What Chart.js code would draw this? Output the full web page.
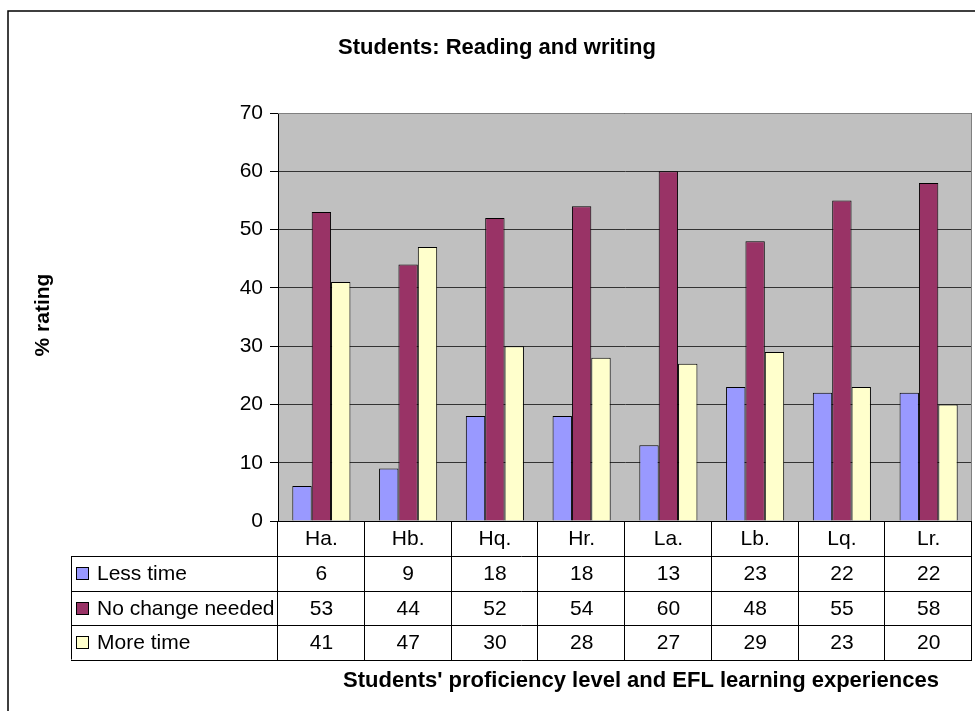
<!DOCTYPE html>
<html>
<head>
<meta charset="utf-8">
<script src="https://cdn.jsdelivr.net/npm/chart.js@4"></script>
<style>
  html, body { margin: 0; padding: 0; background: #fff; }
  canvas { display: block; }
</style>
</head>
<body>
<canvas id="chart" width="975" height="711"></canvas>
<script>
// ── Data ──────────────────────────────────────────────────────────
const categories = ['Ha.', 'Hb.', 'Hq.', 'Hr.', 'La.', 'Lb.', 'Lq.', 'Lr.'];
const lessTime   = [6, 9, 18, 18, 13, 23, 22, 22];
const noChange   = [53, 44, 52, 54, 60, 48, 55, 58];
const moreTime   = [41, 47, 30, 28, 27, 29, 23, 20];
const seriesNames = ['Less time', 'No change needed', 'More time'];
const seriesColors = ['#9999FF', '#993366', '#FFFFCC'];
const yTicks = { min: 0, max: 70, step: 10 };

const chartTitle = 'Students: Reading and writing';
const yTitle     = '% rating';
const xTitle     = "Students' proficiency level and EFL learning experiences";

const FONT = "'Liberation Sans', Arial, sans-serif";

// ── Backdrop, data table, titles ──────────────────────────────────
const excelLook = {
  id: 'excelLook',
  beforeDraw(chart) {
    const { ctx, chartArea: a } = chart;
    ctx.save();
    ctx.fillStyle = '#fff';
    ctx.fillRect(0, 0, chart.width, chart.height);
    ctx.fillStyle = '#C0C0C0';
    ctx.fillRect(a.left, a.top, a.right - a.left, a.bottom - a.top);
    ctx.restore();
  },
  afterDraw(chart) {
    const { ctx, chartArea: a } = chart;
    const xs = chart.scales.x;
    const colW = xs.getPixelForValue(1) - xs.getPixelForValue(0);
    const tableLeft = 71;
    const headerH = 35, rowH = 34.5;
    const rows = [lessTime, noChange, moreTime];
    const tableBottom = a.bottom + headerH + rowH * rows.length;

    ctx.save();
    // plot-area frame (gray top / right)
    ctx.strokeStyle = '#808080';
    ctx.lineWidth = 1;
    ctx.beginPath();
    ctx.moveTo(a.left, a.top + 0.5); ctx.lineTo(a.right - 0.5, a.top + 0.5);
    ctx.lineTo(a.right - 0.5, a.bottom);
    ctx.stroke();

    // table grid
    ctx.strokeStyle = '#000';
    ctx.beginPath();
    ctx.moveTo(a.left, a.bottom + 0.5); ctx.lineTo(a.right, a.bottom + 0.5);
    for (let r = 0; r <= rows.length; r++) {
      const y = Math.round(a.bottom + headerH + r * rowH) + 0.5;
      ctx.moveTo(tableLeft, y); ctx.lineTo(a.right, y);
    }
    ctx.moveTo(tableLeft + 0.5, a.bottom + headerH); ctx.lineTo(tableLeft + 0.5, tableBottom);
    for (let i = 0; i <= categories.length; i++) {
      const x = Math.round(xs.getPixelForValue(0) - colW / 2 + i * colW) - 0.5;
      ctx.moveTo(x, a.bottom); ctx.lineTo(x, tableBottom + 1);
    }
    ctx.stroke();

    // table text
    ctx.fillStyle = '#000';
    ctx.font = `21px ${FONT}`;
    ctx.textAlign = 'center';
    ctx.textBaseline = 'middle';
    categories.forEach((c, i) => {
      ctx.fillText(c, xs.getPixelForValue(i), a.bottom + headerH / 2 + 1);
    });
    rows.forEach((vals, r) => {
      const yc = a.bottom + headerH + r * rowH + rowH / 2 + 1;
      vals.forEach((v, i) => ctx.fillText(String(v), xs.getPixelForValue(i), yc));
      // legend key
      ctx.fillStyle = seriesColors[r];
      ctx.fillRect(76, Math.round(yc - 7), 12, 12);
      ctx.strokeStyle = '#000';
      ctx.strokeRect(76.5, Math.round(yc - 7) + 0.5, 12, 12);
      ctx.fillStyle = '#000';
      ctx.textAlign = 'left';
      ctx.fillText(seriesNames[r], 97, yc);
      ctx.textAlign = 'center';
    });

    // titles
    ctx.font = `bold 22px ${FONT}`;
    ctx.fillText(chartTitle, 497, 48);
    ctx.fillText(xTitle, 641, 681);
    ctx.save();
    ctx.translate(43, 315);
    ctx.rotate(-Math.PI / 2);
    ctx.font = `bold 21px ${FONT}`;
    ctx.fillText(yTitle, 0, 0);
    ctx.restore();

    // outer chart border (runs off the right / bottom edge)
    ctx.lineWidth = 1.5;
    ctx.strokeRect(8, 11, 2000, 2000);
    ctx.restore();
  }
};

// ── Chart ─────────────────────────────────────────────────────────
new Chart(document.getElementById('chart'), {
  type: 'bar',
  data: {
    labels: categories,
    datasets: [lessTime, noChange, moreTime].map((d, i) => ({
      label: seriesNames[i],
      data: d,
      backgroundColor: seriesColors[i],
      borderColor: '#000',
      borderWidth: 1,
      categoryPercentage: 0.67,
      barPercentage: 1.0,
    })),
  },
  options: {
    responsive: false,
    animation: false,
    layout: { padding: { left: 208, top: 113, right: 3, bottom: 190 } },
    plugins: { legend: { display: false }, tooltip: { enabled: false } },
    scales: {
      x: { display: false },
      y: {
        min: yTicks.min, max: yTicks.max,
        ticks: { stepSize: yTicks.step, color: '#000', padding: 7, font: { family: FONT, size: 21 } },
        grid: { color: '#333', tickColor: '#000', tickLength: 8 },
        border: { color: '#000' },
        afterFit: s => { s.width = 70; },
      },
    },
  },
  plugins: [excelLook],
});
</script>
</body>
</html>
